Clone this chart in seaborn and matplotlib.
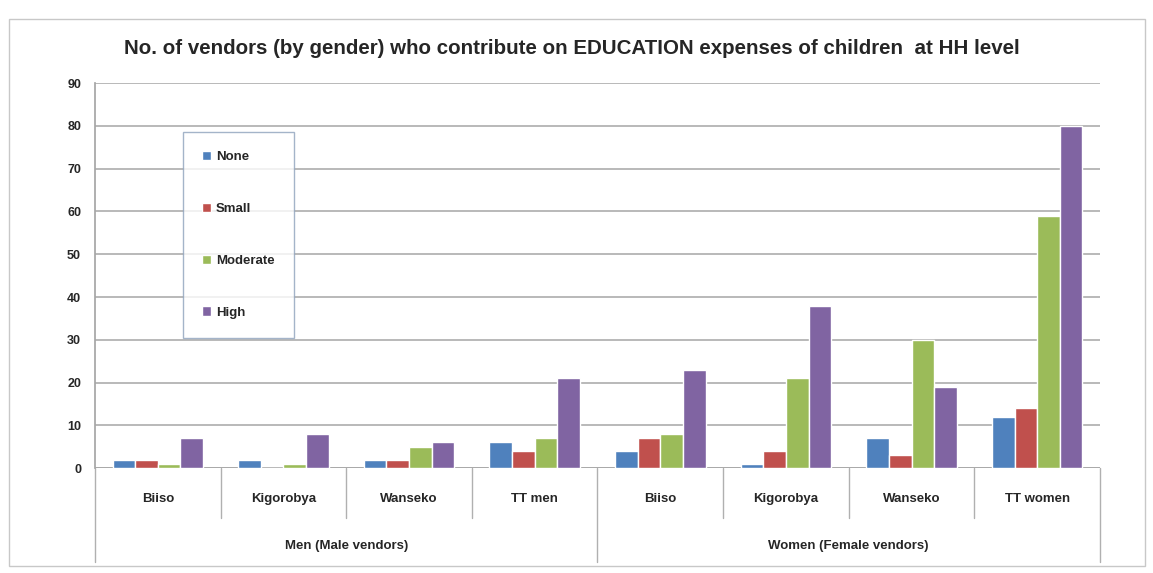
import pandas as pd
import numpy as np
import matplotlib
matplotlib.use('Agg')
import matplotlib.pyplot as plt
import matplotlib.transforms as mtransforms
from matplotlib.patches import Rectangle
import seaborn as sns

# Données
groups = ['Men (Male vendors)', 'Women (Female vendors)']
sites = ['Biiso', 'Kigorobya', 'Wanseko', 'TT men', 'Biiso', 'Kigorobya', 'Wanseko', 'TT women']
site_group = [0, 0, 0, 0, 1, 1, 1, 1]
levels = ['None', 'Small', 'Moderate', 'High']
none_vals = [2, 2, 2, 6, 4, 1, 7, 12]
small_vals = [2, 0, 2, 4, 7, 4, 3, 14]
moderate_vals = [1, 1, 5, 7, 8, 21, 30, 59]
high_vals = [7, 8, 6, 21, 23, 38, 19, 80]
colors = ['#4F81BD', '#C0504D', '#9BBB59', '#8064A2']

keys = [f'{i}_{s}' for i, s in enumerate(sites)]
rows = []
for lvl, vals in zip(levels, [none_vals, small_vals, moderate_vals, high_vals]):
    for k, v in zip(keys, vals):
        rows.append({'site': k, 'level': lvl, 'count': v})
df = pd.DataFrame(rows)

sns.set_theme(style="white")
plt.rcParams['font.family'] = ['Liberation Sans', 'DejaVu Sans']

fig = plt.figure(figsize=(11.53, 5.73), dpi=100)
ax = fig.add_axes([0.0824, 0.183, 0.8716, 0.672])

sns.barplot(data=df, x='site', y='count', hue='level', order=keys, hue_order=levels,
            palette=colors, width=0.72, gap=0, saturation=1, ax=ax)

ax.set_ylim(0, 90)
ax.set_xlim(-0.5, len(keys) - 0.5)
ax.set_yticks(np.arange(0, 91, 10))
ax.yaxis.grid(True, color='#A6A6A6', linewidth=1.1)
ax.set_axisbelow(True)
for s in ['top', 'right', 'bottom']:
    ax.spines[s].set_visible(False)
ax.spines['left'].set_color('#A6A6A6')
ax.axhline(0, color='#A6A6A6', linewidth=1.1, zorder=0.5)
ax.set_xlabel('')
ax.set_ylabel('')
ax.tick_params(axis='y', labelsize=9, pad=10, length=0)
for t in ax.get_yticklabels():
    t.set_fontweight('bold')
ax.set_xticks(range(len(keys)))
ax.set_xticklabels(sites, fontsize=9.5, fontweight='bold')
ax.tick_params(axis='x', length=0, pad=18)

# séparateurs des catégories (axe multi-niveaux)
trans = mtransforms.blended_transform_factory(ax.transData, ax.transAxes)
for i in range(len(keys) + 1):
    x = i - 0.5
    big = i in (0, 4, 8)
    ax.plot([x, x], [0, -0.245 if big else -0.13], transform=trans, color='#B0B0B0',
            linewidth=1, clip_on=False)
for g, name in enumerate(groups):
    idx = [i for i, sg in enumerate(site_group) if sg == g]
    ax.text(np.mean(idx), -0.203, name, transform=trans, ha='center', va='center',
            fontsize=9.5, fontweight='bold')

fig.text(0.496, 0.916, 'No. of vendors (by gender) who contribute on EDUCATION expenses of children  at HH level',
         ha='center', va='center', fontsize=14.8, fontweight='bold')

leg = ax.legend(loc='upper left', bbox_to_anchor=(0.1587, 0.770), bbox_transform=fig.transFigure,
                borderaxespad=0, frameon=True, fancybox=False, labelspacing=3.0,
                handlelength=0.7, handleheight=0.7, handletextpad=0.35, borderpad=1.45,
                prop={'weight': 'bold', 'size': 9.5})
leg.get_frame().set_edgecolor('#8EA2BC')
leg.get_frame().set_linewidth(1)

# cadre de la zone du graphique
fig.patches.append(Rectangle((0.008, 0.012), 0.985, 0.955, transform=fig.transFigure,
                             fill=False, edgecolor='#C8C8C8', linewidth=1))

plt.savefig('out.png', dpi=100)
plt.close()
